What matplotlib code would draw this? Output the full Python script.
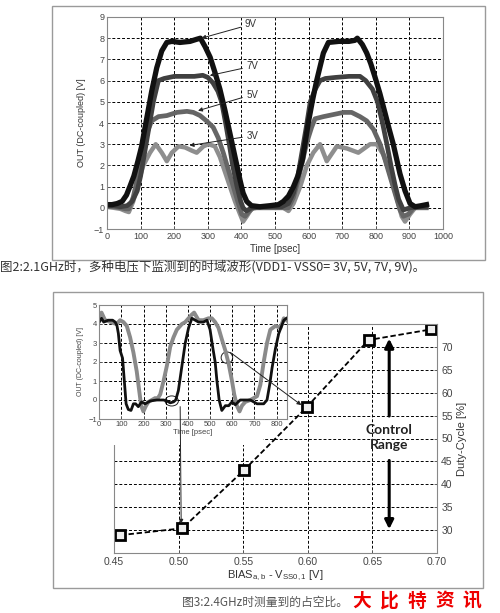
import matplotlib.pyplot as plt
from matplotlib.patches import Rectangle, Ellipse, ConnectionPatch

plt.rcParams['font.family'] = ['Liberation Sans', 'DejaVu Sans']

# ---- fig 2: output waveforms at 2.1 GHz ----
t9 = [0, 15, 30, 45, 58, 68, 80, 92, 103, 118, 133, 148, 163, 178, 193, 217, 247, 267, 278, 292, 307,
      321, 336, 351, 366, 381, 396, 405, 416, 430, 455, 485, 510, 525, 540, 555, 568, 582, 599, 612,
      624, 644, 659, 690, 720, 738, 745, 760, 773, 785, 797, 812, 827, 840, 852, 872, 887, 902, 917,
      935, 951]
v9 = [0.15, 0.15, 0.2, 0.3, 0.6, 1.0, 1.5, 2.2, 2.9, 4.2, 5.5, 6.6, 7.4, 7.8, 7.85, 7.8, 7.85, 7.95,
      8.0, 7.6, 7.1, 6.4, 5.6, 4.6, 3.5, 2.4, 1.3, 0.7, 0.3, 0.1, 0.05, 0.1, 0.15, 0.3, 0.55, 1.0, 1.5,
      2.3, 4.0, 5.1, 6.0, 7.3, 7.8, 7.85, 7.85, 7.9, 8.0, 7.7, 7.3, 6.8, 6.2, 5.4, 4.5, 3.7, 3.0, 1.6,
      0.8, 0.2, 0.05, 0.1, 0.15]

t7 = [0, 20, 40, 60, 75, 90, 100, 112, 125, 138, 153, 170, 200, 230, 260, 285, 300, 315, 330, 341,
      353, 364, 374, 387, 398, 405, 415, 430, 460, 490, 520, 540, 555, 568, 580, 593, 605, 620, 634,
      650, 680, 720, 753, 770, 790, 805, 820, 833, 845, 857, 868, 882, 902, 930, 950]
v7 = [0.1, 0.1, 0.05, 0.1, 0.3, 0.8, 1.5, 2.6, 3.8, 5.0, 6.0, 6.1, 6.2, 6.2, 6.2, 6.25, 6.15, 5.9,
      5.5, 5.0, 4.0, 3.0, 2.0, 1.0, 0.3, 0.0, -0.15, 0.0, 0.05, 0.05, 0.05, 0.2, 0.7, 1.5, 2.6, 3.8,
      5.0, 5.6, 6.0, 6.1, 6.15, 6.2, 6.2, 6.0, 5.6, 5.0, 4.0, 3.0, 2.0, 1.1, 0.4, -0.1, 0.0, 0.05, 0.05]

t5 = [0, 20, 40, 55, 65, 78, 88, 98, 108, 118, 133, 153, 178, 208, 238, 257, 277, 296, 316, 331, 346,
      361, 376, 391, 401, 411, 421, 435, 460, 490, 520, 540, 555, 567, 579, 589, 599, 609, 619, 644,
      674, 704, 728, 753, 773, 793, 813, 827, 842, 857, 872, 882, 897, 912, 935, 950]
v5 = [0.05, 0.05, 0.0, -0.05, -0.05, 0.5, 1.2, 2.0, 2.8, 3.5, 4.1, 4.3, 4.35, 4.5, 4.55, 4.5, 4.35,
      4.1, 3.8, 3.3, 2.6, 1.8, 1.0, 0.2, -0.3, -0.4, -0.2, 0.0, 0.0, 0.0, 0.0, 0.0, 0.5, 1.2, 2.0, 2.7,
      3.3, 3.8, 4.2, 4.3, 4.4, 4.5, 4.5, 4.3, 4.1, 3.7, 3.0, 2.3, 1.5, 0.7, -0.1, -0.4, -0.3, 0.0, 0.0,
      0.0]

t3 = [0, 20, 40, 55, 65, 78, 93, 108, 128, 145, 163, 178, 193, 213, 232, 252, 267, 287, 302, 321, 336,
      351, 366, 381, 396, 405, 416, 430, 445, 470, 500, 525, 540, 555, 575, 595, 614, 634, 654, 684,
      714, 748, 783, 803, 823, 838, 853, 867, 877, 887, 902, 917, 935, 950]
v3 = [0.05, 0.0, -0.05, -0.15, -0.2, 0.3, 1.2, 2.0, 2.6, 3.0, 2.6, 2.2, 2.6, 2.9, 2.85, 2.7, 2.6, 2.9,
      3.0, 2.9, 2.4, 1.7, 1.0, 0.3, -0.3, -0.65, -0.4, -0.05, 0.0, 0.0, 0.0, 0.0, -0.15, 0.2, 1.0, 2.0,
      2.6, 3.0, 2.2, 2.9, 2.8, 2.6, 3.0, 3.0, 2.5, 1.8, 1.0, 0.2, -0.4, -0.65, -0.3, 0.0, 0.0, 0.0]

supply_labels = ['9V', '7V', '5V', '3V']
label_tips = [(281, 8.0), (306, 6.24), (271, 4.58), (246, 2.94)]
label_pos = [(410, 8.65), (415, 6.68), (415, 5.34), (415, 3.4)]

# ---- fig 3: duty cycle at 2.4 GHz ----
bias = [0.455, 0.503, 0.551, 0.599, 0.647, 0.695]
duty = [28.9, 30.4, 43.2, 56.8, 71.5, 73.8]

# inset waveforms
tb = [0, 10, 20, 40, 60, 72, 80, 86, 94, 105, 113, 121, 131, 143, 154, 164, 176, 191, 207, 230, 260,
      290, 305, 320, 335, 345, 357, 373, 388, 403, 418, 433, 448, 470, 486, 500, 513, 523, 531, 541,
      553, 569, 584, 599, 614, 636, 660, 682, 712, 742, 757, 769, 780, 795, 810, 833, 845]
vb = [4.1, 4.3, 4.1, 4.2, 4.2, 4.1, 3.9, 3.5, 2.6, 2.2, 1.0, -0.2, -0.5, -0.55, -0.2, -0.2, -0.35,
      -0.1, -0.2, -0.05, 0.0, 0.0, -0.05, -0.15, -0.1, 0.0, 0.5, 1.8, 3.0, 3.8, 4.3, 4.2, 4.1, 4.1, 4.2,
      3.7, 2.7, 2.0, 1.0, 0.0, -0.55, -0.3, -0.3, -0.1, -0.25, 0.0, 0.0, 0.0, -0.2, -0.2, 0.0, 0.8, 1.7,
      2.7, 3.5, 4.2, 4.3]
tg = [0, 10, 26, 41, 63, 78, 94, 109, 124, 139, 154, 169, 180, 189, 199, 211, 222, 237, 252, 262, 275,
      290, 305, 320, 335, 350, 373, 388, 403, 418, 428, 448, 470, 493, 508, 523, 538, 553, 569, 584,
      599, 609, 621, 633, 644, 659, 682, 712, 727, 742, 757, 772, 795, 818, 833, 845]
vg = [4.4, 4.6, 4.2, 4.15, 4.05, 4.0, 4.2, 4.1, 3.9, 3.3, 2.5, 1.5, 0.5, -0.3, -0.6, -0.3, -0.1, 0.0,
      0.1, 0.05, 0.3, 1.0, 1.8, 2.8, 3.3, 3.7, 4.0, 4.1, 4.3, 4.5, 4.6, 4.2, 4.2, 4.3, 4.3, 4.1, 3.8,
      3.2, 2.6, 1.9, 1.0, 0.3, -0.3, -0.6, -0.3, -0.1, 0.0, 0.2, 0.8, 2.0, 3.0, 3.7, 3.9, 3.8, 4.3, 4.2]

caption1 = '图2:2.1GHz时，多种电压下监测到的时域波形(VDD1- VSS0= 3V, 5V, 7V, 9V)。'
caption2 = '图3:2.4GHz时测量到的占空比。'
brand = ['大', '比', '特', '资', '讯']

W, H = 500, 613


def box(x0, y0, x1, y1):
    # pixel box (top-left origin) -> figure rect
    return [x0 / W, 1 - y1 / H, (x1 - x0) / W, (y1 - y0) / H]


def style(ax, fs):
    for s in ax.spines.values():
        s.set_color('#888888')
        s.set_linewidth(0.8)
    ax.tick_params(direction='in', length=2.5, width=0.6, color='#666666',
                   labelsize=fs, labelcolor='#444444', pad=2)
    ax.grid(True, ls='--', color='black', lw=0.7, dashes=(3, 2))


fig = plt.figure(figsize=(W / 100, H / 100), dpi=100)

# frames
for b in [(52, 6, 485, 260), (53, 292, 483, 588)]:
    r = box(*b)
    fig.add_artist(Rectangle((r[0], r[1]), r[2], r[3], transform=fig.transFigure,
                             fill=False, ec='#9a9a9a', lw=1.0))

# top chart
ax1 = fig.add_axes(box(107, 17, 443, 229))
ax1.plot(t3, v3, color='#8e8e8e', lw=3.2, solid_joinstyle='round')
ax1.plot(t5, v5, color='#666666', lw=3.4, solid_joinstyle='round')
ax1.plot(t7, v7, color='#404040', lw=3.4, solid_joinstyle='round')
ax1.plot(t9, v9, color='#111111', lw=3.8, solid_joinstyle='round')
for lab, tip, pos in zip(supply_labels, label_tips, label_pos):
    ax1.annotate(lab, xy=tip, xytext=pos, fontsize=7, color='#333333', va='center', ha='left',
                 arrowprops=dict(arrowstyle='-|>', lw=0.7, color='#222222',
                                 mutation_scale=6, shrinkA=1, shrinkB=0))
ax1.set_xlim(0, 1000)
ax1.set_ylim(-1, 9)
ax1.set_xticks(range(0, 1001, 100))
ax1.set_yticks(range(-1, 10))
style(ax1, 6.5)
ax1.set_xlabel('Time [psec]', fontsize=7, color='#333333', labelpad=2)
ax1.set_ylabel('OUT (DC-coupled) [V]', fontsize=6.5, color='#333333', labelpad=6)

fig.text(0, 1 - 267 / H, caption1, fontsize=9, color='#333333', va='center', ha='left',
         family=['Noto Sans CJK SC', 'DejaVu Sans'])

# bottom chart
ax2 = fig.add_axes(box(114, 324, 437, 553))
ax2.plot(bias, duty, color='black', ls='--', lw=1.3, dashes=(3, 1.5), marker='s', ms=7,
         mfc='#eeeeee', mec='black', mew=2)
ax2.set_xlim(0.45, 0.70)
ax2.set_ylim(25, 75)
ax2.set_xticks([0.45, 0.50, 0.55, 0.60, 0.65, 0.70])
ax2.set_xticklabels(['%.2f' % v for v in [0.45, 0.50, 0.55, 0.60, 0.65, 0.70]])
ax2.set_yticks(range(30, 71, 5))
ax2.yaxis.tick_right()
ax2.yaxis.set_label_position('right')
style(ax2, 7.5)
ax2.tick_params(pad=3)
ax2.set_ylabel('Duty-Cycle [%]', fontsize=8, color='#333333', labelpad=3)
ax2.set_xlabel(r'BIAS$_{\mathregular{a,b}}$ - V$_{\mathregular{SS0,1}}$ [V]', fontsize=8,
               color='#333333', labelpad=1)
ax2.annotate('', xy=(0.663, 71.8), xytext=(0.663, 54.9),
             arrowprops=dict(arrowstyle='-|>', lw=2.2, color='black', mutation_scale=13,
                             shrinkA=0, shrinkB=0))
ax2.annotate('', xy=(0.663, 30.2), xytext=(0.663, 45.2),
             arrowprops=dict(arrowstyle='-|>', lw=2.2, color='black', mutation_scale=13,
                             shrinkA=0, shrinkB=0))
ax2.text(0.663, 50.2, 'Control\nRange', ha='center', va='center', fontsize=10,
         fontweight='bold', family='Lato', color='#222222', linespacing=1.25)

# white patch hiding main axes behind the inset
r = box(60, 300, 263, 445)
fig.add_artist(Rectangle((r[0], r[1]), r[2], r[3], transform=fig.transFigure,
                         fc='white', ec='none', zorder=1))

# inset
ax3 = fig.add_axes(box(99.3, 305, 286.5, 419), zorder=2)
ax3.plot(tg, vg, color='#8a8a8a', lw=2.8, solid_joinstyle='round')
ax3.plot(tb, vb, color='#111111', lw=2.0, solid_joinstyle='round')
ax3.add_patch(Ellipse((576, 2.23), 52, 0.6, fill=False, ec='#222222', lw=0.7))
ax3.add_patch(Ellipse((327, -0.05), 60, 0.53, fill=False, ec='#222222', lw=0.7))
ax3.set_xlim(0, 845)
ax3.set_ylim(-1, 5)
ax3.set_xticks(range(0, 801, 100))
ax3.set_yticks(range(-1, 6))
style(ax3, 5.5)
ax3.tick_params(pad=1.5)
ax3.set_xlabel('Time [psec]', fontsize=5.5, color='#444444', labelpad=1)
ax3.set_ylabel('OUT (DC-coupled) [V]', fontsize=5, color='#444444', labelpad=3)

for a, b in [((592, 2.5), (0.595, 57.3)), ((365, -0.35), (0.502, 31.4))]:
    cp = ConnectionPatch(xyA=a, coordsA=ax3.transData, xyB=b, coordsB=ax2.transData,
                         arrowstyle='-|>', lw=0.7, color='#222222', mutation_scale=6,
                         shrinkA=0, shrinkB=0, zorder=3)
    fig.add_artist(cp)

fig.text(182 / W, 1 - 602 / H, caption2, fontsize=8.5, color='#555555', va='center', ha='left',
         family=['Noto Sans CJK SC', 'DejaVu Sans'])
for i, ch in enumerate(brand):
    fig.text((362 + i * 27.5) / W, 1 - 601 / H, ch, fontsize=13.5, fontweight='bold',
             color='#ee0000', va='center', ha='center', family='Noto Sans CJK SC')

fig.savefig('out.png', dpi=100)
